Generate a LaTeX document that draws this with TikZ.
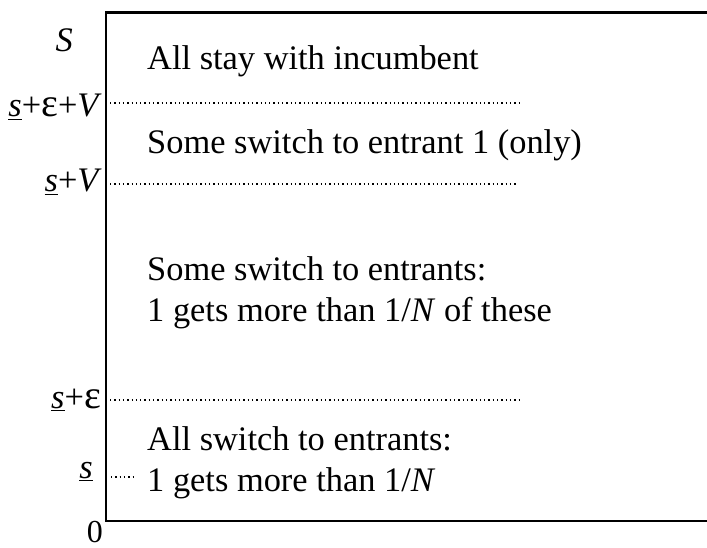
\documentclass[tikz,border=0pt]{standalone}
\usepackage{fontspec}
\setmainfont{Liberation Serif}
\begin{document}
\begin{tikzpicture}[x=1pt,y=-1pt,
  txt/.style={font=\fontsize{34.4}{40}\selectfont, inner sep=0pt, anchor=base west},
  lbl/.style={font=\fontsize{34.4}{40}\selectfont, inner sep=0pt, anchor=base east},
  axis/.style={line width=2.6pt, line cap=rect},
  level/.style={line width=1.3pt, dash pattern=on 1.3pt off 3pt}]
  \useasboundingbox (0,0) rectangle (707,548);

  % frame: vertical axis with top and bottom rules
  \coordinate (tl) at (106,12.5);
  \coordinate (bl) at (106,521);
  \coordinate (tr) at (708,12.5);
  \coordinate (br) at (708,521);
  \draw[axis] (tr) -- (tl) -- (bl) -- (br);

  % threshold levels
  \coordinate (l1a) at (110,103);  \coordinate (l1b) at (520,103);
  \coordinate (l2a) at (110,184);  \coordinate (l2b) at (518,184);
  \coordinate (l3a) at (110,400);  \coordinate (l3b) at (520,400);
  \coordinate (l4a) at (111,477);  \coordinate (l4b) at (133,477);
  \draw[level] (l1a) -- (l1b);
  \draw[level] (l2a) -- (l2b);
  \draw[level] (l3a) -- (l3b);
  \draw[level] (l4a) -- (l4b);

  % axis labels
  \node[lbl] (yS) at (73,52) {\textit{S}};
  \node[lbl] (y1) at (102,117) {\underline{\textit{s}}+{\fontsize{40}{40}\selectfont ε}+\textit{V}};
  \node[lbl] (y2) at (102,192) {\underline{\textit{s}}+\textit{V}};
  \node[lbl] (y3) at (101,408) {\underline{\textit{s}}+{\fontsize{40}{40}\selectfont ε}};
  \node[lbl] (y4) at (93,478) {\underline{\textit{s}}};
  \node[lbl, font=\fontsize{32}{36}\selectfont] (y0) at (103,542) {0};

  % region descriptions
  \node[txt] (r1) at (147,70) {All stay with incumbent};
  \node[txt] (r2) at (147,154) {Some switch to entrant 1 (only)};
  \node[txt] (r3a) at (147,280) {Some switch to entrants:};
  \node[txt] (r3b) at (147,321) {1 gets more than 1/\textit{N} of these};
  \node[txt] (r4a) at (147,450) {All switch to entrants:};
  \node[txt] (r4b) at (147,491) {1 gets more than 1/\textit{N}};
\end{tikzpicture}
\end{document}
